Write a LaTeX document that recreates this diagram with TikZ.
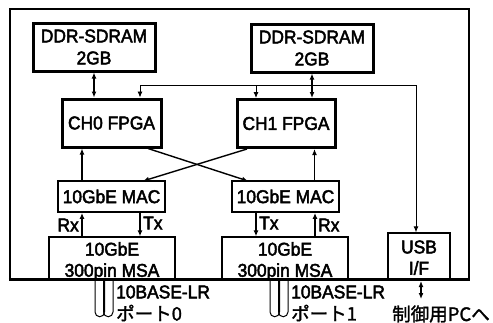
\documentclass[tikz,border=0pt]{standalone}
\usepackage{fontspec}
\setmainfont{Liberation Sans}[UprightFeatures={FakeBold=2.5},FakeStretch=0.94]
\newfontfamily\jpfont{Noto Sans CJK JP}[UprightFeatures={FakeBold=1.5}]
\usetikzlibrary{arrows.meta,calc}
\begin{document}
\begin{tikzpicture}[x=1pt,y=-1pt,
  every node/.style={font=\fontsize{18.5}{22}\selectfont, inner sep=0pt, align=center},
  thickbox/.style={draw, line width=3pt, minimum height=48pt},
  macbox/.style={draw, line width=1.8pt, minimum width=107pt, minimum height=31pt},
  thinbox/.style={draw, line width=1.3pt},
  arr/.style={line width=1.7pt, -{Latex[length=6pt,width=5pt]}},
  darr/.style={line width=1.7pt, {Latex[length=6pt,width=5pt]}-{Latex[length=6pt,width=5pt]}},
  busarr/.style={line width=0.9pt, -{Latex[length=6pt,width=5pt]}},
  tube/.style={line width=1pt},
  lbl/.style={anchor=west}
]
\useasboundingbox (0,0) rectangle (493,322);
\fill[white] (0,0) rectangle (493,322);

% boxes
\node[thickbox, minimum width=122pt] (ddr0) at (94,47) {DDR-SDRAM\\2GB};
\node[thickbox, minimum width=122pt] (ddr1) at (312,48) {DDR-SDRAM\\2GB};
\node[thickbox, minimum width=99pt] (ch0) at (111.5,123) {CH0 FPGA};
\node[thickbox, minimum width=98pt] (ch1) at (286,123.5) {CH1 FPGA};
\node[macbox] (mac0) at (111.5,196.5) {10GbE MAC};
\node[macbox] (mac1) at (285.5,196.5) {10GbE MAC};
\node[thinbox, minimum width=126pt, minimum height=42pt] (msa0) at (112,258) {};
\node[thinbox, minimum width=126pt, minimum height=42pt] (msa1) at (285,258) {};
\node[thinbox, minimum width=62pt, minimum height=46pt] (usb) at (419,256) {};
\node at (112,249) {10GbE};
\node at (112,272) {300pin MSA};
\node at (285,249) {10GbE};
\node at (285,272) {300pin MSA};
\node at (419,247) {USB};
\node at (419,268) {I/F};

% outer frame
\draw[line width=2.2pt] (10,279) -- (10,9) -- (469,9) -- (469,279);
\draw[line width=3pt] (8.9,279) -- (470.1,279);

% DDR <-> FPGA
\draw[darr] (ddr0.south) -- (ddr0.south |- ch0.north);
\draw[darr] (ddr1.south) -- (ddr1.south |- ch1.north);

% bus from USB to FPGAs
\coordinate (busL) at (140,85);
\coordinate (busM) at (256,85);
\coordinate (busR) at (416,85);
\draw[busarr] (busL) -- (busR) -- (busR |- usb.north);
\draw[busarr] (busL) -- (busL |- ch0.north);
\draw[busarr] (busM) -- (busM |- ch1.north);

% MAC -> FPGA
\coordinate (m0u) at (82,181);
\coordinate (m1u) at (314.5,181);
\draw[arr] (m0u) -- (m0u |- ch0.south);
\draw[arr] (m1u) -- (m1u |- ch1.south);

% crossing
\coordinate (x0) at (148,0);
\coordinate (x1) at (247,0);
\coordinate (t1) at (248,181);
\coordinate (t0) at (143,181);
\draw[arr, line width=1.4pt] (x0 |- ch0.south) -- (t1);
\draw[arr, line width=1.4pt] (x1 |- ch1.south) -- (t0);

% MAC <-> MSA
\coordinate (rx0) at (82,237);
\coordinate (tx0) at (140,212);
\coordinate (tx1) at (256,212);
\coordinate (rx1) at (315,237);
\draw[arr] (rx0) -- (rx0 |- mac0.south);
\draw[arr] (tx0) -- (tx0 |- msa0.north);
\draw[arr] (tx1) -- (tx1 |- msa1.north);
\draw[arr] (rx1) -- (rx1 |- mac1.south);
\node[anchor=east] at (79,225) {Rx};
\node[lbl] at (143,223) {Tx};
\node[lbl] at (259,223) {Tx};
\node[lbl] at (318,225) {Rx};

% USB to PC
\coordinate (pcT) at (421,281);
\coordinate (pcB) at (421,299);
\draw[darr, line width=1.3pt] (pcT) -- (pcB);
\node (pc) at (441,314) {\jpfont 制御用PCへ};

% fibers port 0
\draw[tube] (95,281) -- (95,312) arc[start angle=180,end angle=360,radius=4.75pt] -- (104.5,281);
\draw[tube] (103.5,281) -- (103.5,312) arc[start angle=180,end angle=360,radius=4.75pt] -- (113,281);
\node[lbl] at (116,292) {10BASE-LR};
\node[lbl] at (116,313) {\jpfont ポート0};

% fibers port 1
\draw[tube] (270,281) -- (270,312) arc[start angle=180,end angle=360,radius=4.75pt] -- (279.5,281);
\draw[tube] (278.5,281) -- (278.5,312) arc[start angle=180,end angle=360,radius=4.75pt] -- (288,281);
\node[lbl] at (291,292) {10BASE-LR};
\node[lbl] at (291,313) {\jpfont ポート1};
\end{tikzpicture}
\end{document}
